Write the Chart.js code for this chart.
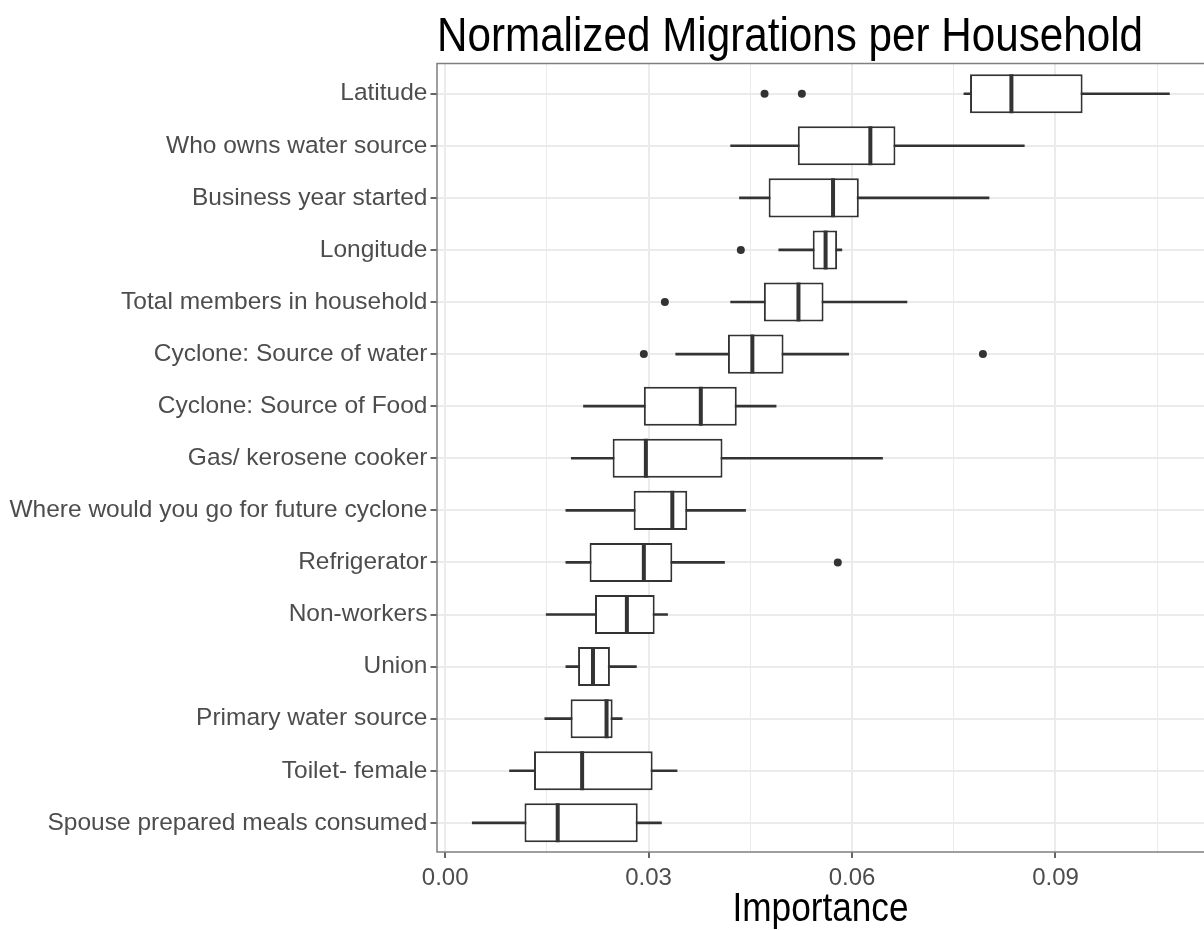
<!DOCTYPE html>
<html>
<head>
<meta charset="utf-8">
<script src="https://cdn.jsdelivr.net/npm/chart.js@4"></script>
<style>
  html, body { margin: 0; padding: 0; background: #fff; overflow: hidden; }
  #wrap { width: 1204px; height: 930px; position: relative; }
  canvas { display: block; }
</style>
</head>
<body>
<div id="wrap"><canvas id="myChart"></canvas></div>
<script>
const categories = ['Latitude', 'Who owns water source', 'Business year started', 'Longitude',
  'Total members in household', 'Cyclone: Source of water', 'Cyclone: Source of Food',
  'Gas/ kerosene cooker', 'Where would you go for future cyclone', 'Refrigerator',
  'Non-workers', 'Union', 'Primary water source', 'Toilet- female', 'Spouse prepared meals consumed']

const whiskerLow = [0.0765, 0.0421, 0.0434, 0.0492, 0.0421, 0.0340, 0.0204, 0.0186, 0.0178, 0.0178, 0.0149, 0.0178, 0.0147, 0.0095, 0.0040]
const q1 = [0.0774, 0.0520, 0.0477, 0.0542, 0.0470, 0.0417, 0.0293, 0.0247, 0.0278, 0.0213, 0.0221, 0.0196, 0.0185, 0.0131, 0.0117]
const median = [0.0835, 0.0627, 0.0572, 0.0561, 0.0521, 0.0453, 0.0377, 0.0296, 0.0335, 0.0293, 0.0268, 0.0218, 0.0238, 0.0202, 0.0166]
const q3 = [0.0940, 0.0664, 0.0610, 0.0578, 0.0558, 0.0499, 0.0430, 0.0409, 0.0357, 0.0335, 0.0309, 0.0243, 0.0247, 0.0306, 0.0284]
const whiskerHigh = [0.1068, 0.0854, 0.0802, 0.0585, 0.0681, 0.0595, 0.0488, 0.0645, 0.0443, 0.0412, 0.0328, 0.0282, 0.0261, 0.0342, 0.0319]

// [category index, value]
const outliers = [[0, 0.0471], [0, 0.0526], [3, 0.0436], [4, 0.0324], [5, 0.0293], [5, 0.0793], [9, 0.0579]]

const xTicks = [0, 0.015, 0.03, 0.045, 0.06, 0.075, 0.09, 0.105]

const chartTitle = 'Normalized Migrations per Household'
const xTitle = 'Importance'

const FONT = "'Liberation Sans', Arial, Helvetica, sans-serif"
const DARK = '#333333'
const GRID = '#EBEBEB'

const panelBorder = {
  id: 'panelBorder',
  afterDraw (chart) {
    const { ctx, chartArea: a } = chart
    ctx.save()
    ctx.strokeStyle = '#7f7f7f'
    ctx.lineWidth = 1.5
    ctx.beginPath()
    ctx.moveTo(a.right, a.top)
    ctx.lineTo(a.left, a.top)
    ctx.lineTo(a.left, a.bottom)
    ctx.lineTo(a.right, a.bottom)
    ctx.stroke()
    ctx.restore()
  }
}

// titles in the reference use a condensed face, so squeeze them with maxWidth
const narrowTitles = {
  id: 'narrowTitles',
  afterDraw (chart) {
    const { ctx, chartArea: a } = chart
    ctx.save()
    ctx.fillStyle = '#000000'
    ctx.textBaseline = 'middle'
    ctx.font = '48px ' + FONT
    ctx.textAlign = 'left'
    ctx.fillText(chartTitle, a.left, 38, 706)
    ctx.font = '40px ' + FONT
    ctx.textAlign = 'center'
    ctx.fillText(xTitle, (a.left + a.right) / 2, 910, 176)
    ctx.restore()
  }
}

new Chart(document.getElementById('myChart'), {
  type: 'bar',
  data: {
    datasets: [
      {
        label: 'whiskers',
        indexAxis: 'y',
        grouped: false,
        order: 3,
        data: categories.map((c, i) => ({ x: [whiskerLow[i], whiskerHigh[i]], y: i })),
        backgroundColor: DARK,
        borderWidth: 0,
        barThickness: 2
      },
      {
        label: 'boxes',
        indexAxis: 'y',
        grouped: false,
        order: 2,
        data: categories.map((c, i) => ({ x: [q1[i], q3[i]], y: i })),
        backgroundColor: '#ffffff',
        borderColor: DARK,
        borderWidth: 2,
        borderSkipped: false,
        categoryPercentage: 1,
        barPercentage: 0.75
      },
      {
        label: 'median',
        type: 'scatter',
        order: 1,
        data: categories.map((c, i) => ({ x: median[i], y: i })),
        pointStyle: 'line',
        pointRotation: 90,
        pointRadius: 19.5,
        pointBorderWidth: 4,
        pointBorderColor: DARK
      },
      {
        label: 'outliers',
        type: 'scatter',
        order: 0,
        data: outliers.map(o => ({ x: o[1], y: o[0] })),
        pointStyle: 'circle',
        pointRadius: 4,
        pointBackgroundColor: DARK,
        pointBorderWidth: 0
      }
    ]
  },
  options: {
    responsive: true,
    maintainAspectRatio: false,
    animation: false,
    layout: { padding: { top: 63.5 }, autoPadding: false },
    plugins: {
      legend: { display: false },
      tooltip: { enabled: false },
      title: { display: false }
    },
    scales: {
      x: {
        type: 'linear',
        axis: 'x',
        position: 'bottom',
        offset: false,
        min: -0.0012,
        max: 0.1119,
        afterBuildTicks: (scale) => { scale.ticks = xTicks.map(v => ({ value: v })) },
        afterFit: (scale) => { scale.height = 78 },
        border: { display: false },
        grid: {
          offset: false,
          color: GRID,
          lineWidth: (ctx) => (ctx.index % 2 === 0 ? 2 : 1),
          tickColor: (ctx) => (ctx.index % 2 === 0 ? DARK : 'rgba(0,0,0,0)'),
          tickWidth: 1.5,
          tickLength: 6
        },
        ticks: {
          autoSkip: false,
          maxRotation: 0,
          color: '#4D4D4D',
          padding: 6,
          font: { family: FONT, size: 24 },
          callback: (value, index) => (index % 2 === 0 ? value.toFixed(2) : '')
        }
      },
      y: {
        type: 'linear',
        axis: 'y',
        position: 'left',
        offset: false,
        reverse: true,
        min: -0.58,
        max: 14.56,
        afterBuildTicks: (scale) => { scale.ticks = categories.map((c, i) => ({ value: i })) },
        afterFit: (scale) => { scale.width = 437 },
        border: { display: false },
        grid: {
          offset: false,
          color: GRID,
          lineWidth: 2,
          tickColor: DARK,
          tickWidth: 1.5,
          tickLength: 6.5
        },
        ticks: {
          autoSkip: false,
          color: '#4D4D4D',
          padding: 3,
          font: { family: FONT, size: 24.5 },
          callback: (value) => categories[value]
        }
      }
    }
  },
  plugins: [panelBorder, narrowTitles]
})
</script>
</body>
</html>
